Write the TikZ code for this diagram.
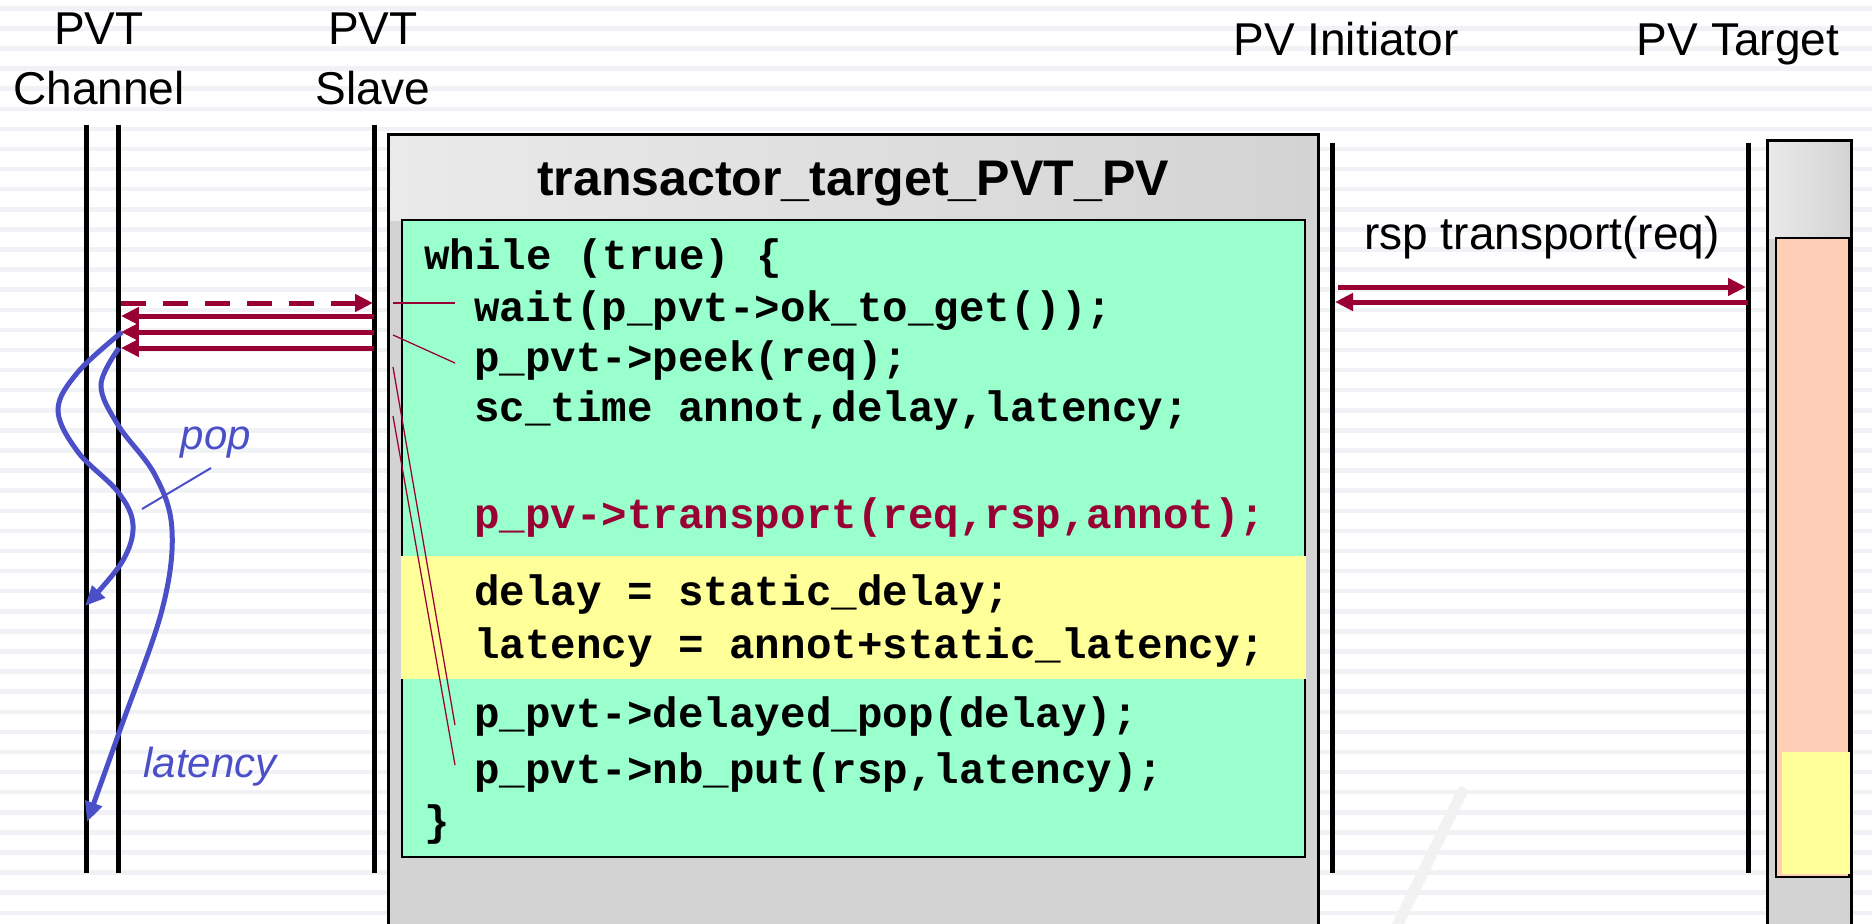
\documentclass[tikz,border=0pt]{standalone}
\usepackage{fontspec}
\setmainfont{Liberation Sans}
\newfontfamily\codefont{Liberation Mono}
\usetikzlibrary{arrows.meta}
\definecolor{pvred}{RGB}{153,0,51}
\definecolor{pvblue}{RGB}{75,80,200}
\definecolor{codegreen}{RGB}{153,255,204}
\definecolor{codeyellow}{RGB}{255,255,153}
\definecolor{peach}{RGB}{255,206,182}
\definecolor{boxgray}{RGB}{211,211,211}
\definecolor{boxlight}{RGB}{234,234,234}
\definecolor{stripe}{RGB}{240,242,245}

\begin{document}
\begin{tikzpicture}[
  x=0.02cm, y=-0.02cm,
  lifeline/.style={line width=0.1cm},
  lanetitle/.style={font=\fontsize{26.2}{33.6}\selectfont,inner sep=0pt,align=center,anchor=base},
  boxtitle/.style={font=\bfseries\fontsize{28.5}{34}\selectfont,inner sep=0pt,anchor=base},
  codeline/.style={font=\codefont\bfseries\fontsize{24.2}{29}\selectfont,inner sep=0pt,anchor=base west},
  pvtarrow/.style={pvred,line width=0.1cm,-{Triangle[length=0.36cm,width=0.34cm]}},
  codeptr/.style={pvred,line width=0.025cm},
  timearrow/.style={pvblue,line width=0.1cm,-{Triangle[length=0.4cm,width=0.34cm]}},
  timenote/.style={pvblue,font=\itshape\fontsize{23.9}{28}\selectfont,inner sep=0pt,anchor=base}
]
  \useasboundingbox (0,0) rectangle (1872,923);
  \fill[white] (0,0) rectangle (1872,923);
  \foreach \k in {0,...,45}
    \fill[stripe] (0,{6+20.1*\k}) rectangle (1872,{10.5+20.1*\k});
  \draw[black!5,line width=0.22cm,line cap=round] (1462,792) -- (1395,930);

  \fill[boxgray] (388,134) rectangle (1318,935);
  \shade[left color=boxlight,right color=boxgray] (388,134) rectangle (1318,220);
  \draw[line width=0.06cm] (388,134) rectangle (1318,935);
  \node[boxtitle] (title) at (853,195) {transactor\_target\_PVT\_PV};
  \draw[fill=codegreen,line width=0.04cm] (402,220) rectangle (1305,857);
  \fill[codeyellow] (401,556) rectangle (1306,679);

  \node[codeline] (c0) at (424,269) {while (true) \{};
  \node[codeline] (c1) at (474,321) {wait(p\_pvt->ok\_to\_get());};
  \node[codeline] (c2) at (474,371) {p\_pvt->peek(req);};
  \node[codeline] (c3) at (474,421) {sc\_time annot,delay,latency;};
  \node[codeline,text=pvred] (c4) at (474,528) {p\_pv->transport(req,rsp,annot);};
  \node[codeline] (c5) at (474,605) {delay = static\_delay;};
  \node[codeline] (c6) at (474,658) {latency = annot+static\_latency;};
  \node[codeline] (c7) at (474,727) {p\_pvt->delayed\_pop(delay);};
  \node[codeline] (c8) at (474,783) {p\_pvt->nb\_put(rsp,latency);};
  \node[codeline] (c9) at (424,835) {\}};

  \fill[boxgray] (1767,140) rectangle (1851,935);
  \shade[left color=boxlight,right color=boxgray] (1767,140) rectangle (1851,238);
  \draw[line width=0.06cm] (1767,140) rectangle (1851,935);
  \draw[fill=peach,line width=0.04cm] (1776,238) rectangle (1849,877);
  \fill[codeyellow] (1782,752) rectangle (1850,874);

  \node[lanetitle] (chname) at (99,104) {PVT\\Channel};
  \node[lanetitle] (slname) at (373,104) {PVT\\Slave};
  \node[lanetitle] (ininame) at (1346,55) {PV Initiator};
  \node[lanetitle] (tgtname) at (1738,55) {PV Target};
  \node[lanetitle] (rsplabel) at (1542,249) {rsp transport(req)};

  \coordinate (chL-t) at (86,125);   \coordinate (chL-b) at (86,873);
  \coordinate (chR-t) at (118,125);  \coordinate (chR-b) at (118,873);
  \coordinate (sl-t) at (374,125);   \coordinate (sl-b) at (374,873);
  \coordinate (ini-t) at (1332,143); \coordinate (ini-b) at (1332,873);
  \coordinate (tgt-t) at (1748,143); \coordinate (tgt-b) at (1748,873);
  \draw[lifeline] (chL-t) -- (chL-b);
  \draw[lifeline] (chR-t) -- (chR-b);
  \draw[lifeline] (sl-t) -- (sl-b);
  \draw[lifeline] (ini-t) -- (ini-b);
  \draw[lifeline] (tgt-t) -- (tgt-b);

  \coordinate (okq) at (121,303); \coordinate (oka) at (373,303);
  \draw[pvtarrow,dash pattern=on 0.5cm off 0.34cm] (okq) -- (oka);
  \foreach \y [count=\i] in {316,332,348} {
    \coordinate (ret\i) at (374,\y);
    \coordinate (got\i) at (121,\y);
    \draw[pvtarrow] (ret\i) -- (got\i);
  }
  \coordinate (reqs) at (1338,287); \coordinate (reqe) at (1746,287);
  \coordinate (rsps) at (1748,302); \coordinate (rspe) at (1335,302);
  \draw[pvtarrow] (reqs) -- (reqe);
  \draw[pvtarrow] (rsps) -- (rspe);

  \coordinate (p1a) at (393,303); \coordinate (p1b) at (455,303);
  \coordinate (p2a) at (393,335); \coordinate (p2b) at (455,363);
  \coordinate (p3a) at (393,367); \coordinate (p3b) at (455,725);
  \coordinate (p4a) at (393,416); \coordinate (p4b) at (455,765);
  \draw[codeptr] (p1a) -- (p1b);
  \draw[codeptr] (p2a) -- (p2b);
  \draw[codeptr] (p3a) -- (p3b);
  \draw[codeptr] (p4a) -- (p4b);

  \draw[timearrow] plot[smooth,tension=0.6] coordinates
    {(122,332) (78,372) (58,410) (78,452) (118,492) (133,525) (122,562) (85,606)};
  \draw[timearrow] plot[smooth,tension=0.6] coordinates
    {(119,348) (101,385) (118,425) (155,475) (172,530) (162,610) (120,730) (87,822)};
  \node[timenote] (poplabel) at (216,449) {pop};
  \node[timenote] (latlabel) at (210,777) {latency};
  \coordinate (popa) at (211,468); \coordinate (popb) at (142,509);
  \draw[pvblue,line width=0.04cm] (popa) -- (popb);
\end{tikzpicture}
\end{document}
